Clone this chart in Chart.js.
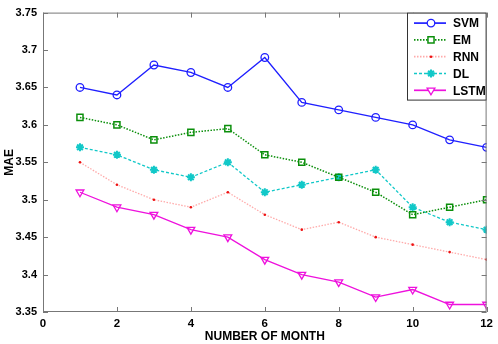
<!DOCTYPE html>
<html>
<head>
<meta charset="utf-8">
<script src="https://cdn.jsdelivr.net/npm/chart.js@4"></script>
<style>
  html, body { margin: 0; padding: 0; background: #fff; }
  #wrap { width: 498px; height: 344px; }
</style>
</head>
<body>
<div id="wrap"><canvas id="graficoMae" width="498" height="344"></canvas></div>
<script>
var meses = [1, 2, 3, 4, 5, 6, 7, 8, 9, 10, 11, 12]
var svm = [3.65, 3.64, 3.68, 3.67, 3.65, 3.69, 3.63, 3.62, 3.61, 3.60, 3.58, 3.57]
var em = [3.61, 3.60, 3.58, 3.59, 3.595, 3.56, 3.55, 3.53, 3.51, 3.48, 3.49, 3.50]
var rnn = [3.55, 3.52, 3.50, 3.49, 3.51, 3.48, 3.46, 3.47, 3.45, 3.44, 3.43, 3.42]
var dl = [3.57, 3.56, 3.54, 3.53, 3.55, 3.51, 3.52, 3.53, 3.54, 3.49, 3.47, 3.46]
var lstm = [3.51, 3.49, 3.48, 3.46, 3.45, 3.42, 3.40, 3.39, 3.37, 3.38, 3.36, 3.36]
var nomes = ['SVM', 'EM', 'RNN', 'DL', 'LSTM']
var xTicks = [0, 2, 4, 6, 8, 10, 12]
var yTicks = [3.35, 3.4, 3.45, 3.5, 3.55, 3.6, 3.65, 3.7, 3.75]

var familia = '"Liberation Sans", Arial, sans-serif'

function pontos(valores) {
    var lista = []
    for (var i = 0; i < meses.length; i++) {
        lista.push({ x: meses[i], y: valores[i] })
    }
    return lista
}

var dados = {
    datasets: [{
        label: nomes[0],
        data: pontos(svm),
        borderColor: '#1f1fff',
        backgroundColor: '#fff',
        borderWidth: 1.3,
        pointStyle: 'circle',
        pointRadius: 3.8,
        pointBorderWidth: 1.3,
        pointBorderColor: '#1f1fff',
        pointBackgroundColor: 'rgba(0,0,0,0)'
    }, {
        label: nomes[1],
        data: pontos(em),
        borderColor: '#0b8f0b',
        backgroundColor: '#fff',
        borderWidth: 1.5,
        borderDash: [1.5, 1.5],
        pointStyle: 'rect',
        pointRadius: 4.3,
        pointBorderWidth: 1.5,
        pointBorderColor: '#0b8f0b',
        pointBackgroundColor: 'rgba(0,0,0,0)'
    }, {
        label: nomes[2],
        data: pontos(rnn),
        borderColor: '#ffaaaa',
        backgroundColor: '#ee1111',
        borderWidth: 1.3,
        borderDash: [1.5, 1.5],
        pointStyle: 'circle',
        pointRadius: 1.3,
        pointBorderWidth: 0,
        pointBorderColor: '#ee1111',
        pointBackgroundColor: '#ee1111'
    }, {
        label: nomes[3],
        data: pontos(dl),
        borderColor: '#11c8c8',
        backgroundColor: '#fff',
        borderWidth: 1.3,
        borderDash: [3, 2],
        pointStyle: 'star',
        pointRadius: 4,
        pointBorderWidth: 2,
        pointBorderColor: '#11c8c8',
        pointBackgroundColor: 'rgba(0,0,0,0)'
    }, {
        label: nomes[4],
        data: pontos(lstm),
        borderColor: '#ee11dd',
        backgroundColor: '#fff',
        borderWidth: 1.3,
        pointStyle: 'triangle',
        pointRotation: 180,
        pointRadius: 4.5,
        pointBorderWidth: 1.3,
        pointBorderColor: '#ee11dd',
        pointBackgroundColor: 'rgba(0,0,0,0)'
    }]
}

// caixa, ticks internos e legenda no canto
var moldura = {
    id: 'moldura',
    afterDraw: function (chart) {
        var ctx = chart.ctx
        var a = chart.chartArea
        var sx = chart.scales.x
        var sy = chart.scales.y
        ctx.save()
        ctx.strokeStyle = '#777'
        ctx.lineWidth = 1
        ctx.strokeRect(a.left + 0.5, a.top + 0.5, a.right - a.left - 1, a.bottom - a.top - 1)
        ctx.beginPath()
        for (var i = 0; i < xTicks.length; i++) {
            var px = Math.round(sx.getPixelForValue(xTicks[i])) + 0.5
            ctx.moveTo(px, a.bottom); ctx.lineTo(px, a.bottom - 5)
            ctx.moveTo(px, a.top); ctx.lineTo(px, a.top + 5)
        }
        for (var j = 0; j < yTicks.length; j++) {
            var py = Math.round(sy.getPixelForValue(yTicks[j])) + 0.5
            ctx.moveTo(a.left, py); ctx.lineTo(a.left + 5, py)
            ctx.moveTo(a.right, py); ctx.lineTo(a.right - 5, py)
        }
        ctx.stroke()

        // legenda
        var lx = 407, ly = a.top, lw = a.right - lx, lh = 88
        ctx.fillStyle = '#fff'
        ctx.fillRect(lx, ly, lw, lh)
        ctx.strokeStyle = '#333'
        ctx.strokeRect(lx + 0.5, ly + 0.5, lw - 1, lh - 1)
        ctx.font = 'bold 12px ' + familia
        ctx.textBaseline = 'middle'
        ctx.textAlign = 'left'
        for (var k = 0; k < chart.data.datasets.length; k++) {
            var ds = chart.data.datasets[k]
            var yy = ly + 10.5 + k * 16.8
            ctx.beginPath()
            ctx.strokeStyle = ds.borderColor
            ctx.lineWidth = ds.borderWidth + 0.4
            ctx.setLineDash(ds.borderDash || [])
            ctx.moveTo(lx + 7, yy); ctx.lineTo(lx + 39, yy)
            ctx.stroke()
            ctx.setLineDash([])
            ctx.fillStyle = k == 2 ? ds.pointBackgroundColor : '#fff'
            ctx.strokeStyle = ds.pointBorderColor
            ctx.lineWidth = ds.pointBorderWidth
            Chart.helpers.drawPoint(ctx, {
                pointStyle: ds.pointStyle,
                rotation: ds.pointRotation || 0,
                radius: ds.pointRadius,
                borderWidth: ds.pointBorderWidth
            }, lx + 24, yy)
            ctx.fillStyle = '#000'
            ctx.fillText(ds.label, lx + 46, yy + 1)
        }
        ctx.restore()
    }
}

var config = {
    type: 'line',
    data: dados,
    options: {
        responsive: false,
        animation: false,
        layout: { padding: { top: 6, right: 8, left: 0, bottom: 0 } },
        plugins: { legend: { display: false }, tooltip: { enabled: false } },
        scales: {
            x: {
                type: 'linear',
                min: 0,
                max: 12,
                afterBuildTicks: function (s) { s.ticks = xTicks.map(function (v) { return { value: v } }) },
                afterFit: function (s) { s.height = 32 },
                grid: { display: false, drawTicks: false },
                border: { display: false },
                ticks: { color: '#000', font: { family: familia, size: 11.5, weight: 'bold' }, padding: 5, maxRotation: 0 },
                title: { display: true, text: 'NUMBER OF MONTH', color: '#000', font: { family: familia, size: 12, weight: 'bold' }, padding: { top: 1, bottom: 0 } }
            },
            y: {
                type: 'linear',
                min: 3.35,
                max: 3.75,
                afterBuildTicks: function (s) { s.ticks = yTicks.map(function (v) { return { value: v } }) },
                afterFit: function (s) { s.width = 43 },
                grid: { display: false, drawTicks: false },
                border: { display: false },
                ticks: {
                    color: '#000',
                    font: { family: familia, size: 11, weight: 'bold' },
                    padding: 6,
                    callback: function (v) { return String(Number(v.toFixed(2))) }
                },
                title: { display: true, text: 'MAE', color: '#000', font: { family: familia, size: 12, weight: 'bold' }, padding: { top: 2, bottom: 0 } }
            }
        }
    },
    plugins: [moldura]
}

var myChart = new Chart(document.getElementById('graficoMae'), config)
</script>
</body>
</html>
